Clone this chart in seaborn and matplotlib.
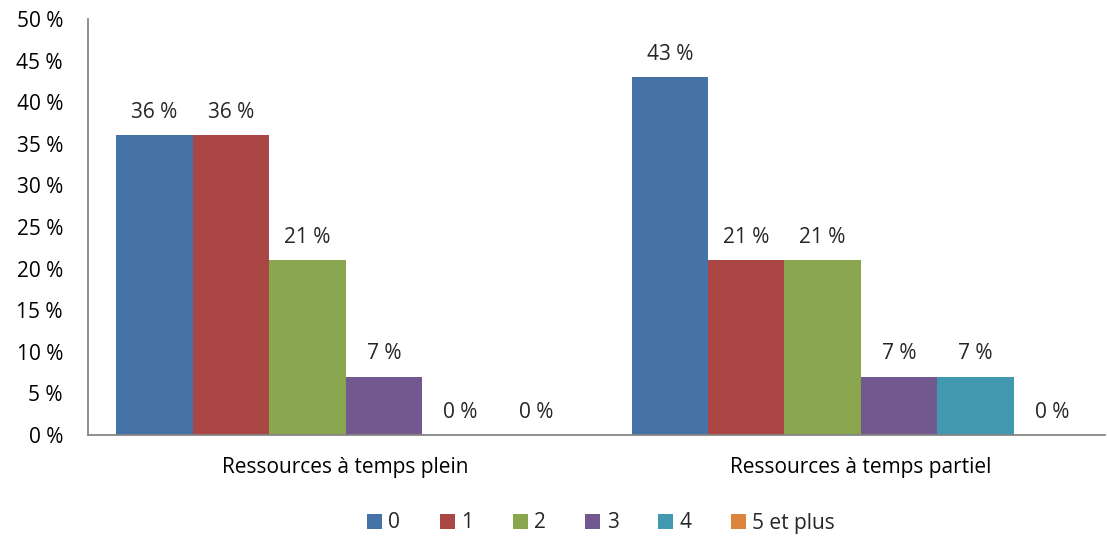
import matplotlib
matplotlib.use("Agg")
import matplotlib.pyplot as plt
from matplotlib.patches import Patch
import seaborn as sns
import pandas as pd

# Share of resources by count, per employment type (percent)
categories = ["Ressources à temps plein", "Ressources à temps partiel"]
groups = ["0", "1", "2", "3", "4", "5 et plus"]
plein = [36, 36, 21, 7, 0, 0]
partiel = [43, 21, 21, 7, 7, 0]
colors = ["#4572A7", "#AA4643", "#89A54E", "#71588F", "#4198AF", "#DB843D"]
y_ticks = [0, 5, 10, 15, 20, 25, 30, 35, 40, 45, 50]

df = pd.DataFrame({
    "cat": [categories[0]] * len(groups) + [categories[1]] * len(groups),
    "grp": groups * 2,
    "val": plein + partiel,
})

sns.set_style("white")
plt.rcParams["font.family"] = ["Open Sans", "DejaVu Sans"]
FS = 15

fig = plt.figure(figsize=(11.07, 5.39), dpi=100)
ax = fig.add_axes([88 / 1107, 1 - 435 / 539, (1105 - 88) / 1107, (435 - 19) / 539])

sns.barplot(data=df, x="cat", y="val", hue="grp", order=categories,
            hue_order=groups, palette=colors, width=0.89, gap=0,
            linewidth=0, saturation=1, ax=ax, legend=False)

ax.set_xlim(-0.5, 1.474)
ax.set_ylim(0, 50)
ax.set_yticks(y_ticks)
ax.set_yticklabels([f"{t} %" for t in y_ticks])
ax.set_xlabel("")
ax.set_ylabel("")
ax.tick_params(axis="both", length=0, labelsize=FS, colors="#000000")
ax.tick_params(axis="y", pad=18)
ax.tick_params(axis="x", pad=16)

for side in ["top", "right"]:
    ax.spines[side].set_visible(False)
for side in ["left", "bottom"]:
    ax.spines[side].set_color("#868686")
    ax.spines[side].set_linewidth(1.3)

# Value labels above each bar
for container in ax.containers:
    for bar in container:
        h = bar.get_height()
        ax.annotate(f"{h:.0f} %", (bar.get_x() + bar.get_width() / 2, h),
                    xytext=(0, 9), textcoords="offset points",
                    ha="center", va="bottom", fontsize=FS)

handles = [Patch(facecolor=c, edgecolor="none") for c in colors]
fig.legend(handles, groups, loc="center", bbox_to_anchor=(0.543, 1 - 523 / 539),
           ncol=6, frameon=False, fontsize=FS, handlelength=0.72,
           handleheight=0.72, handletextpad=0.3, columnspacing=1.9)

fig.savefig("out.png", dpi=100)
